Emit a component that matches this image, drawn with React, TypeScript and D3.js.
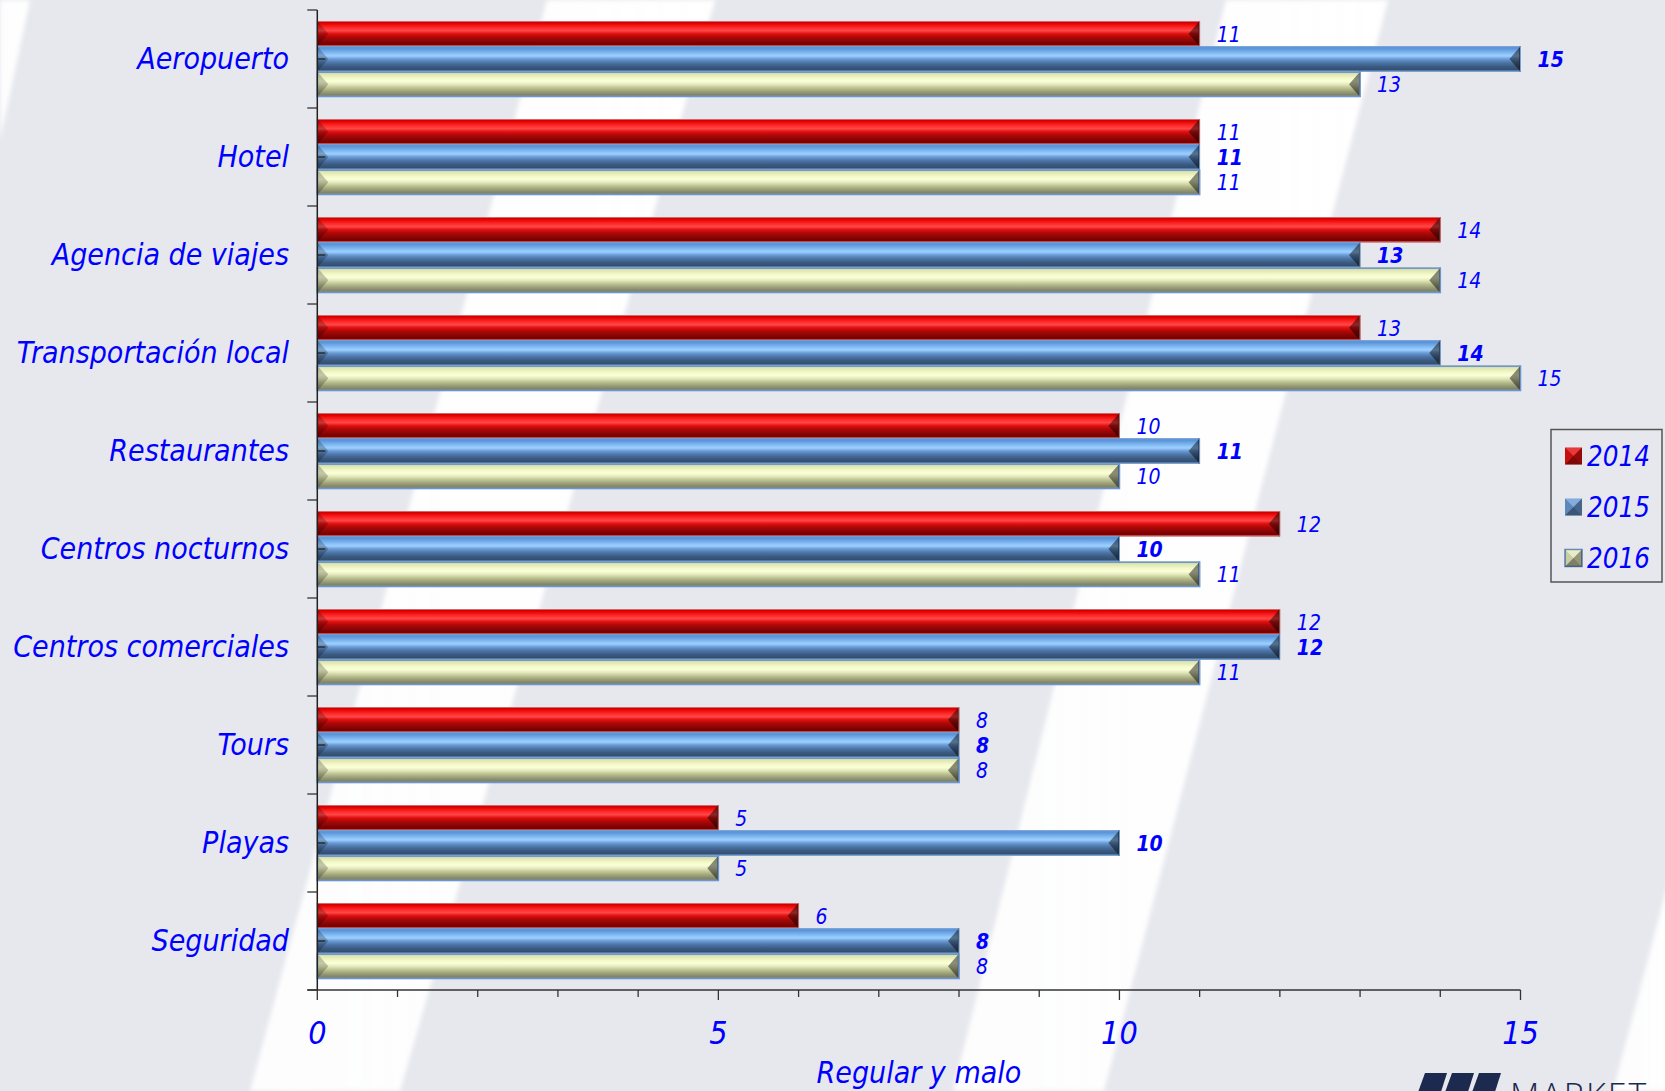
import React from "react";
import * as d3 from "d3";

// Categories (top to bottom) and yearly counts of "regular y malo" ratings
const categories = [
  "Aeropuerto",
  "Hotel",
  "Agencia de viajes",
  "Transportación local",
  "Restaurantes",
  "Centros nocturnos",
  "Centros comerciales",
  "Tours",
  "Playas",
  "Seguridad",
];
const years = ["2014", "2015", "2016"];
const values2014 = [11, 11, 14, 13, 10, 12, 12, 8, 5, 6];
const values2015 = [15, 11, 13, 14, 11, 10, 12, 8, 10, 8];
const values2016 = [13, 11, 14, 15, 10, 11, 11, 8, 5, 8];
const xTickLabels = [0, 5, 10, 15];
const axisTitle = "Regular y malo";
const logoText = "MARKET";

const seriesValues: Record<string, number[]> = {
  "2014": values2014,
  "2015": values2015,
  "2016": values2016,
};

const W = 1665;
const H = 1091;
const FONT = "'DejaVu Sans Condensed', 'DejaVu Sans', sans-serif";
const BLUE_TEXT = "#0000ff";

// Vertical gradient stops for each series (bevelled bar look)
const gradients: Record<string, [number, string][]> = {
  "2014": [
    [0, "#b80000"],
    [0.08, "#dc0000"],
    [0.25, "#ff2626"],
    [0.38, "#ff4848"],
    [0.5, "#e21010"],
    [0.63, "#b00808"],
    [0.8, "#8a0505"],
    [0.92, "#760000"],
    [1, "#9a1a1a"],
  ],
  "2015": [
    [0, "#4f86c8"],
    [0.1, "#5e97dc"],
    [0.28, "#86bff5"],
    [0.38, "#9ed0ff"],
    [0.5, "#6a9bd6"],
    [0.63, "#4f78aa"],
    [0.8, "#3b5a82"],
    [0.92, "#34506f"],
    [1, "#557db2"],
  ],
  "2016": [
    [0, "#c4cc98"],
    [0.1, "#e0e6b0"],
    [0.28, "#f5fbcb"],
    [0.38, "#fbffd9"],
    [0.5, "#e4eabb"],
    [0.63, "#c0c696"],
    [0.8, "#979b74"],
    [0.92, "#7e8268"],
    [1, "#8a9078"],
  ],
};
const strokes: Record<string, string> = {
  "2014": "#d06a6a",
  "2015": "#77a3da",
  "2016": "#6d96cf",
};

// Light diagonal bands of the slide background
const bands: [number, number][][] = [
  [
    [0, 0],
    [30, 0],
    [0, 140],
  ],
  [
    [547, 0],
    [715, 0],
    [400, 1091],
    [250, 1091],
  ],
  [
    [1226, 0],
    [1388, 0],
    [1104, 1091],
    [953, 1091],
  ],
  [
    [1613, 1091],
    [1700, 763],
    [1760, 763],
    [1760, 1091],
  ],
];

export default function App() {
  const plotLeft = 317.3;
  const plotRight = 1520.5;
  const plotTop = 10;
  const plotBottom = 990;

  const x = d3.scaleLinear().domain([0, 15]).range([plotLeft, plotRight]);
  const y = d3
    .scaleBand<string>()
    .domain(categories)
    .range([plotTop, plotBottom])
    .paddingInner(0.2245)
    .paddingOuter(0.1122);
  const ys = d3.scaleBand<string>().domain(years).range([0, y.bandwidth()]);
  const step = y.step();
  const bevel = 11;

  const minorTicks = d3.range(0, 16);

  return (
    <div style={{ width: W, height: H }}>
      <style>{`body{margin:0;}`}</style>
      <svg width={W} height={H} style={{ display: "block" }}>
        <defs>
          {years.map((yr) => (
            <linearGradient key={yr} id={`g${yr}`} x1="0" y1="0" x2="0" y2="1">
              {gradients[yr].map(([o, c], i) => (
                <stop key={i} offset={o} stopColor={c} />
              ))}
            </linearGradient>
          ))}
          <filter id="soft" x="-10%" y="-10%" width="120%" height="120%">
            <feGaussianBlur stdDeviation="2" />
          </filter>
          <linearGradient id="bandFade" x1="0" y1="0" x2="1" y2="0">
            <stop offset="0" stopColor="#ffffff" stopOpacity="0.92" />
            <stop offset="1" stopColor="#ffffff" stopOpacity="1" />
          </linearGradient>
        </defs>

        {/* background */}
        <rect x={0} y={0} width={W} height={H} fill="#e7e8ee" />
        <g filter="url(#soft)">
          {bands.map((pts, i) => (
            <polygon key={i} points={pts.map((p) => p.join(",")).join(" ")} fill="url(#bandFade)" />
          ))}
        </g>

        {/* bars */}
        {categories.map((cat, ci) =>
          years.map((yr) => {
            const v = seriesValues[yr][ci];
            const y0 = (y(cat) as number) + (ys(yr) as number);
            const h = ys.bandwidth();
            const x0 = x(0);
            const x1 = x(v);
            const ym = y0 + h / 2;
            return (
              <g key={cat + yr}>
                <rect x={x0} y={y0} width={x1 - x0} height={h} fill={`url(#g${yr})`} />
                <polygon
                  points={`${x0},${y0} ${x0 + bevel},${ym} ${x0},${y0 + h}`}
                  fill="#000"
                  opacity={0.22}
                />
                <polygon
                  points={`${x1},${y0} ${x1 - bevel},${ym} ${x1},${y0 + h}`}
                  fill="#000"
                  opacity={0.45}
                />
                <line x1={x1 - 0.5} x2={x1 - 0.5} y1={y0} y2={y0 + h} stroke="#222" strokeWidth={1.2} />
                <rect
                  x={x0}
                  y={y0 + 0.5}
                  width={x1 - x0}
                  height={h - 1}
                  fill="none"
                  stroke={strokes[yr]}
                  strokeWidth={yr === "2016" ? 1.6 : 1}
                />
              </g>
            );
          })
        )}

        {/* value labels */}
        {categories.map((cat, ci) =>
          years.map((yr) => {
            const v = seriesValues[yr][ci];
            const yc = (y(cat) as number) + (ys(yr) as number) + ys.bandwidth() / 2;
            return (
              <text
                key={"l" + cat + yr}
                x={x(v) + 17}
                y={yc + 8}
                fontFamily={FONT}
                fontStyle="italic"
                fontWeight={yr === "2015" ? "bold" : "normal"}
                fontSize={21}
                fill={BLUE_TEXT}
              >
                {v}
              </text>
            );
          })
        )}

        {/* category axis */}
        <line x1={plotLeft} x2={plotLeft} y1={plotTop} y2={plotBottom} stroke="#222" strokeWidth={1.5} />
        {d3.range(0, categories.length + 1).map((k) => {
          const yy = plotTop + k * step;
          return <line key={"bt" + k} x1={plotLeft - 10} x2={plotLeft} y1={yy} y2={yy} stroke="#333" strokeWidth={1.3} />;
        })}
        {categories.map((cat) => {
          const yc = (y(cat) as number) + y.bandwidth() / 2;
          return (
            <g key={"c" + cat}>
              <line x1={plotLeft} x2={plotLeft + 8} y1={yc} y2={yc} stroke="#222" strokeWidth={1.3} />
              <text
                x={289}
                y={yc + 10}
                textAnchor="end"
                fontFamily={FONT}
                fontStyle="italic"
                fontSize={30}
                fill={BLUE_TEXT}
              >
                {cat}
              </text>
            </g>
          );
        })}

        {/* value axis */}
        <line x1={plotLeft - 10} x2={plotRight} y1={plotBottom} y2={plotBottom} stroke="#333" strokeWidth={1.3} />
        {minorTicks.map((t) => (
          <line
            key={"xt" + t}
            x1={x(t)}
            x2={x(t)}
            y1={plotBottom}
            y2={plotBottom + (t % 5 === 0 ? 10 : 7)}
            stroke="#333"
            strokeWidth={1.3}
          />
        ))}
        {xTickLabels.map((t) => (
          <text
            key={"xl" + t}
            x={x(t)}
            y={1044}
            textAnchor="middle"
            fontFamily={FONT}
            fontStyle="italic"
            fontSize={32}
            fill={BLUE_TEXT}
          >
            {t}
          </text>
        ))}
        <text
          x={(plotLeft + plotRight) / 2}
          y={1083}
          textAnchor="middle"
          fontFamily={FONT}
          fontStyle="italic"
          fontSize={30}
          fill={BLUE_TEXT}
        >
          {axisTitle}
        </text>

        {/* legend */}
        <rect x={1551} y={429.5} width={111} height={152.5} fill="none" stroke="#555" strokeWidth={1.5} />
        {years.map((yr, i) => {
          const cy = 456 + i * 51;
          const s = 17;
          const mx = 1565;
          const my = cy - s / 2;
          const c = { x: mx + s / 2, y: my + s / 2 };
          return (
            <g key={"lg" + yr}>
              <rect x={mx} y={my} width={s} height={s} fill={gradients[yr][4][1]} stroke={yr === "2016" ? "#5a7fb0" : "none"} strokeWidth={1.5} />
              <polygon points={`${mx},${my} ${mx + s},${my} ${c.x},${c.y}`} fill="#fff" opacity={0.18} />
              <polygon points={`${mx + s},${my} ${mx + s},${my + s} ${c.x},${c.y}`} fill="#000" opacity={0.35} />
              <polygon points={`${mx},${my + s} ${mx + s},${my + s} ${c.x},${c.y}`} fill="#000" opacity={0.45} />
              <polygon points={`${mx},${my} ${mx},${my + s} ${c.x},${c.y}`} fill="#000" opacity={0.12} />
              <text
                x={1587}
                y={cy + 10}
                fontFamily={FONT}
                fontStyle="italic"
                fontSize={27.5}
                fill={BLUE_TEXT}
              >
                {yr}
              </text>
            </g>
          );
        })}

        {/* logo at the bottom edge */}
        <g fill="#1b2a4e">
          {[0, 1, 2].map((k) => {
            const bx = 1417 + k * 27;
            return <polygon key={"lb" + k} points={`${bx + 8},1073 ${bx + 30},1073 ${bx + 23},1095 ${bx},1095`} />;
          })}
          <text x={1510} y={1108} fontFamily="'Open Sans', sans-serif" fontWeight={300} fontSize={34} letterSpacing={2}>
            {logoText}
          </text>
        </g>
      </svg>
    </div>
  );
}
